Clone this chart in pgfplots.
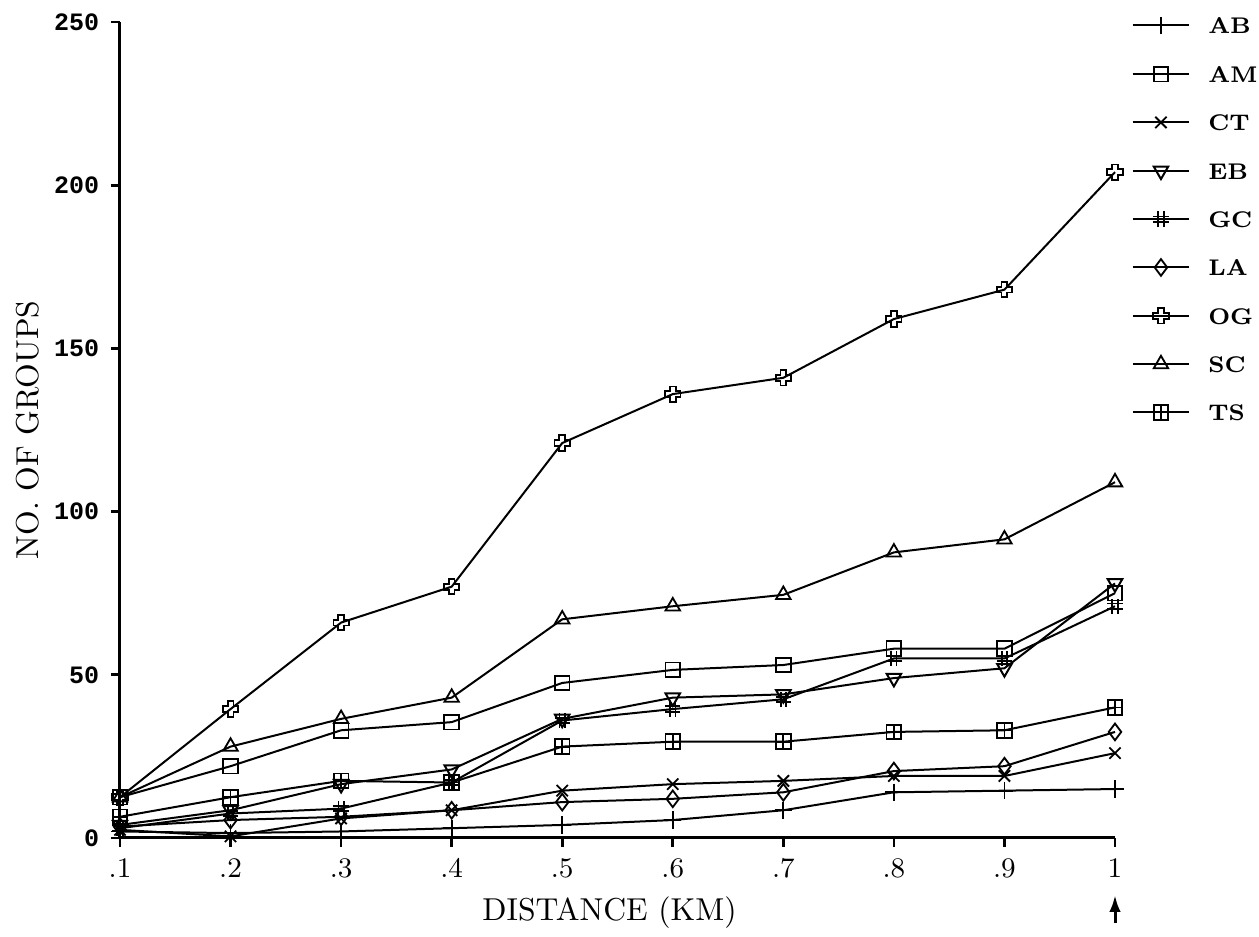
\documentclass[border=0pt]{standalone}
\usepackage{fontspec}
\usepackage{pgfplots}
\pgfplotsset{compat=1.18}
\usetikzlibrary{arrows.meta}
\newfontfamily\tickfont{Liberation Mono}

\pgfdeclareplotmark{ogcross}{%
  \pgfpathmoveto{\pgfqpoint{-0.38\pgfplotmarksize}{\pgfplotmarksize}}%
  \pgfpathlineto{\pgfqpoint{0.38\pgfplotmarksize}{\pgfplotmarksize}}%
  \pgfpathlineto{\pgfqpoint{0.38\pgfplotmarksize}{0.38\pgfplotmarksize}}%
  \pgfpathlineto{\pgfqpoint{\pgfplotmarksize}{0.38\pgfplotmarksize}}%
  \pgfpathlineto{\pgfqpoint{\pgfplotmarksize}{-0.38\pgfplotmarksize}}%
  \pgfpathlineto{\pgfqpoint{0.38\pgfplotmarksize}{-0.38\pgfplotmarksize}}%
  \pgfpathlineto{\pgfqpoint{0.38\pgfplotmarksize}{-\pgfplotmarksize}}%
  \pgfpathlineto{\pgfqpoint{-0.38\pgfplotmarksize}{-\pgfplotmarksize}}%
  \pgfpathlineto{\pgfqpoint{-0.38\pgfplotmarksize}{-0.38\pgfplotmarksize}}%
  \pgfpathlineto{\pgfqpoint{-\pgfplotmarksize}{-0.38\pgfplotmarksize}}%
  \pgfpathlineto{\pgfqpoint{-\pgfplotmarksize}{0.38\pgfplotmarksize}}%
  \pgfpathlineto{\pgfqpoint{-0.38\pgfplotmarksize}{0.38\pgfplotmarksize}}%
  \pgfpathclose
  \pgfusepathqstroke}
\pgfdeclareplotmark{hash}{%
  \pgfpathmoveto{\pgfqpoint{-0.35\pgfplotmarksize}{-\pgfplotmarksize}}%
  \pgfpathlineto{\pgfqpoint{-0.35\pgfplotmarksize}{\pgfplotmarksize}}%
  \pgfpathmoveto{\pgfqpoint{0.35\pgfplotmarksize}{-\pgfplotmarksize}}%
  \pgfpathlineto{\pgfqpoint{0.35\pgfplotmarksize}{\pgfplotmarksize}}%
  \pgfpathmoveto{\pgfqpoint{-\pgfplotmarksize}{-0.35\pgfplotmarksize}}%
  \pgfpathlineto{\pgfqpoint{\pgfplotmarksize}{-0.35\pgfplotmarksize}}%
  \pgfpathmoveto{\pgfqpoint{-\pgfplotmarksize}{0.35\pgfplotmarksize}}%
  \pgfpathlineto{\pgfqpoint{\pgfplotmarksize}{0.35\pgfplotmarksize}}%
  \pgfusepathqstroke}
\pgfdeclareplotmark{sqplus}{%
  \pgfpathrectangle{\pgfqpoint{-\pgfplotmarksize}{-\pgfplotmarksize}}{\pgfqpoint{2\pgfplotmarksize}{2\pgfplotmarksize}}%
  \pgfpathmoveto{\pgfqpoint{0pt}{-\pgfplotmarksize}}%
  \pgfpathlineto{\pgfqpoint{0pt}{\pgfplotmarksize}}%
  \pgfpathmoveto{\pgfqpoint{-\pgfplotmarksize}{0pt}}%
  \pgfpathlineto{\pgfqpoint{\pgfplotmarksize}{0pt}}%
  \pgfusepathqstroke}

\begin{document}
\begin{tikzpicture}
\begin{axis}[
  name=ax,
  scale only axis, width=298.5pt, height=244.8pt,
  xmin=0.1, xmax=1, ymin=0, ymax=250,
  axis x line=bottom, axis y line=left,
  axis line style={-, line width=0.9pt},
  xtick={0.1,0.2,0.3,0.4,0.5,0.6,0.7,0.8,0.9,1},
  xticklabels={.1,.2,.3,.4,.5,.6,.7,.8,.9,1},
  ytick={0,50,100,150,200,250},
  tick align=outside, major tick length=2.7pt,
  tick style={line width=0.8pt, black},
  xticklabel style={font=\fontsize{8.5}{10}\selectfont},
  yticklabel style={font=\tickfont\bfseries\fontsize{7.5}{9}\selectfont, /pgf/number format/assume math mode=true},
  xlabel={DISTANCE (KM)}, ylabel={NO. OF GROUPS},
  label style={font=\fontsize{9.5}{11}\selectfont},
  xlabel style={at={(axis description cs:0.492,-0.0908)}, anchor=center},
  ylabel style={at={(axis description cs:-0.0926,0.5)}, anchor=center},
  clip=false,
  legend cell align=left,
  legend style={draw=none, fill=none, at={(axis description cs:1.006,1.0154)}, anchor=north west,
    font=\bfseries\fontsize{6.8}{8}\selectfont, row sep=9.5pt, column sep=5.4pt,
    nodes={inner sep=0pt, text height=5pt, text depth=0pt}},
  legend image code/.code={\draw[mark repeat=2,mark phase=2,#1] plot coordinates {(0pt,0pt)(8.5pt,0pt)(17pt,0pt)};},
  every axis plot/.append style={line width=0.6pt, black, mark size=2.2pt, mark options={solid, line width=0.55pt}},
]
\addplot[mark=+, mark size=2.6pt] coordinates {(0.1,2)(0.2,1.5)(0.3,2)(0.4,3)(0.5,4)(0.6,5.5)(0.7,8.5)(0.8,14)(0.9,14.5)(1,15)};
\addlegendentry{AB}
\addplot[mark=square] coordinates {(0.1,12.5)(0.2,22)(0.3,33)(0.4,35.5)(0.5,47.5)(0.6,51.5)(0.7,53)(0.8,58)(0.9,58)(1,75)};
\addlegendentry{AM}
\addplot[mark=x, mark size=2.4pt] coordinates {(0.1,2.5)(0.2,0.5)(0.3,6)(0.4,8.5)(0.5,14.5)(0.6,16.5)(0.7,17.5)(0.8,19)(0.9,19)(1,26)};
\addlegendentry{CT}
\addplot[mark=triangle, mark size=2.5pt, mark options={rotate=180}] coordinates {(0.1,4)(0.2,8.5)(0.3,16.5)(0.4,21)(0.5,36.5)(0.6,43)(0.7,44)(0.8,49)(0.9,52)(1,78)};
\addlegendentry{EB}
\addplot[mark=hash, mark size=2.3pt] coordinates {(0.1,3)(0.2,7.5)(0.3,9)(0.4,17)(0.5,36)(0.6,39.5)(0.7,42.5)(0.8,55)(0.9,55)(1,71)};
\addlegendentry{GC}
\addplot[mark=diamond, mark size=2.5pt] coordinates {(0.1,3.5)(0.2,5.5)(0.3,6.5)(0.4,8.5)(0.5,11)(0.6,12)(0.7,14)(0.8,20.5)(0.9,22)(1,32.5)};
\addlegendentry{LA}
\addplot[mark=ogcross, mark size=2.3pt] coordinates {(0.1,12.5)(0.2,39.5)(0.3,66)(0.4,77)(0.5,121)(0.6,136)(0.7,141)(0.8,159)(0.9,168)(1,204)};
\addlegendentry{OG}
\addplot[mark=triangle, mark size=2.5pt] coordinates {(0.1,12.5)(0.2,28)(0.3,36.5)(0.4,43)(0.5,67)(0.6,71)(0.7,74.5)(0.8,87.5)(0.9,91.5)(1,109)};
\addlegendentry{SC}
\addplot[mark=sqplus] coordinates {(0.1,6.5)(0.2,12.5)(0.3,17.5)(0.4,17)(0.5,28)(0.6,29.5)(0.7,29.5)(0.8,32.5)(0.9,33)(1,40)};
\addlegendentry{TS}
\draw[line width=0.9pt, -{Latex[length=5pt, width=3.4pt]}] (axis cs:1,-26) -- (axis cs:1,-17.5);
\end{axis}
\pgfresetboundingbox
\path[use as bounding box] ([shift={(-36pt,-29.7pt)}]ax.south west) rectangle ([shift={(43.2pt,6.6pt)}]ax.north east);
\end{tikzpicture}
\end{document}
